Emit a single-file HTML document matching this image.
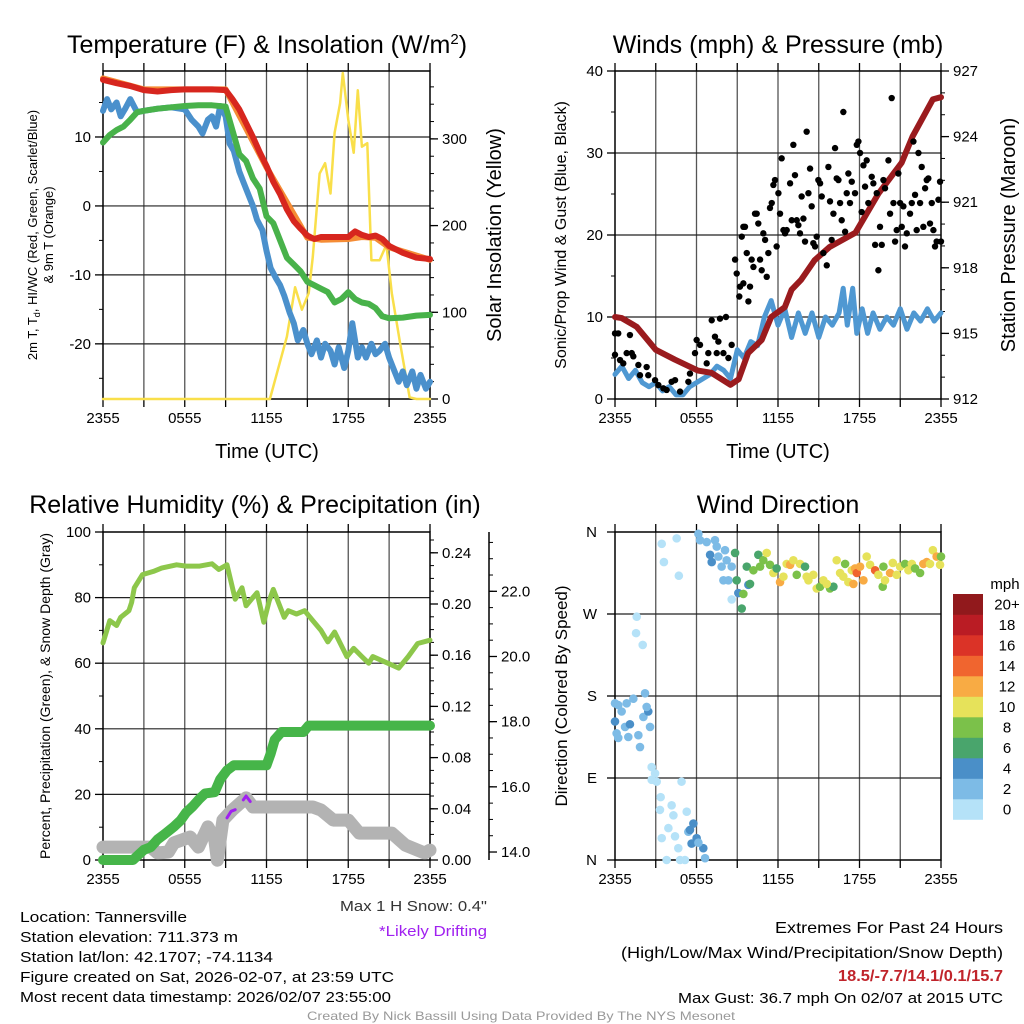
<!DOCTYPE html>
<html><head><meta charset="utf-8"><style>
html,body{margin:0;padding:0;background:#fff;}
svg{display:block;font-family:"Liberation Sans",Arial,sans-serif;}
</style></head><body>
<svg id="c" width="1024" height="1024" viewBox="0 0 1024 1024" xmlns="http://www.w3.org/2000/svg">
<g id="txt" fill="#000">
<text x="267" y="53" font-size="25" text-anchor="middle">Temperature (F) &amp; Insolation (W/m<tspan dy="-9" font-size="15">2</tspan><tspan dy="9">)</tspan></text>
<text x="778" y="53" font-size="25" text-anchor="middle">Winds (mph) &amp; Pressure (mb)</text>
<text x="255" y="513" font-size="25" text-anchor="middle">Relative Humidity (%) &amp; Precipitation (in)</text>
<text x="778" y="513" font-size="25" text-anchor="middle">Wind Direction</text>
<text x="267" y="458" font-size="20" text-anchor="middle">Time (UTC)</text>
<text x="778" y="458" font-size="20" text-anchor="middle">Time (UTC)</text>
<text transform="translate(37,235) rotate(-90)" font-size="13" text-anchor="middle">2m T, T<tspan font-size="9" dy="3">d</tspan><tspan dy="-3">, HI/WC (Red, Green, Scarlet/Blue)</tspan></text>
<text transform="translate(53,235) rotate(-90)" font-size="13" text-anchor="middle">&amp; 9m T (Orange)</text>
<text transform="translate(501,235) rotate(-90)" font-size="20" text-anchor="middle">Solar Insolation (Yellow)</text>
<text transform="translate(566,235) rotate(-90)" font-size="16" text-anchor="middle">Sonic/Prop Wind &amp; Gust (Blue, Black)</text>
<text transform="translate(1015,235) rotate(-90)" font-size="20" text-anchor="middle">Station Pressure (Maroon)</text>
<text transform="translate(50,696) rotate(-90)" font-size="14" text-anchor="middle">Percent, Precipitation (Green), &amp; Snow Depth (Gray)</text>
<text transform="translate(567,696) rotate(-90)" font-size="17" text-anchor="middle">Direction (Colored By Speed)</text>
<text x="1005" y="589" font-size="15" text-anchor="middle">mph</text>
<text x="487" y="911" font-size="15" text-anchor="end" textLength="147" lengthAdjust="spacingAndGlyphs" fill="#333">Max 1 H Snow: 0.4"</text>
<text x="487" y="936" font-size="15" text-anchor="end" textLength="108" lengthAdjust="spacingAndGlyphs" fill="#a020f0">*Likely Drifting</text>
<text x="20" y="922" font-size="15" textLength="167" lengthAdjust="spacingAndGlyphs">Location: Tannersville</text>
<text x="20" y="942" font-size="15" textLength="218" lengthAdjust="spacingAndGlyphs">Station elevation: 711.373 m</text>
<text x="20" y="962" font-size="15" textLength="253" lengthAdjust="spacingAndGlyphs">Station lat/lon: 42.1707; -74.1134</text>
<text x="20" y="982" font-size="15" textLength="374" lengthAdjust="spacingAndGlyphs">Figure created on Sat, 2026-02-07, at 23:59 UTC</text>
<text x="20" y="1002" font-size="15" textLength="371" lengthAdjust="spacingAndGlyphs">Most recent data timestamp: 2026/02/07 23:55:00</text>
<text x="1003" y="933" font-size="16" text-anchor="end" textLength="228" lengthAdjust="spacingAndGlyphs">Extremes For Past 24 Hours</text>
<text x="1003" y="958" font-size="16" text-anchor="end" textLength="382" lengthAdjust="spacingAndGlyphs">(High/Low/Max Wind/Precipitation/Snow Depth)</text>
<text x="1003" y="981" font-size="16" font-weight="bold" text-anchor="end" textLength="165" lengthAdjust="spacingAndGlyphs" fill="#c0242b">18.5/-7.7/14.1/0.1/15.7</text>
<text x="1003" y="1003" font-size="15" text-anchor="end" textLength="325" lengthAdjust="spacingAndGlyphs">Max Gust: 36.7 mph On 02/07 at 2015 UTC</text>
<text x="521" y="1020" font-size="12" text-anchor="middle" textLength="428" lengthAdjust="spacingAndGlyphs" fill="#999">Created By Nick Bassill Using Data Provided By The NYS Mesonet</text>
</g>
</svg>
<script>
// ---------- DATA ----------
var xTickLabels = ["2355","0555","1155","1755","2355"];
var tempHours = [0,1,2,3,4,5,6,7,8,9,9.5,10,10.5,11,11.5,12,12.5,13,13.5,14,14.5,15,15.5,16,17,18,18.5,19,19.5,20,20.5,21,22,23,24];
var tempVals = [18.3,17.8,17.4,16.8,16.6,16.8,16.9,16.9,16.9,16.8,15.5,14,12,10,7.8,5.8,3.5,1.7,-0.5,-2.2,-3.3,-4.3,-4.8,-4.5,-4.5,-4.5,-3.7,-4.2,-4.5,-4.3,-4.8,-5.8,-6.8,-7.5,-7.7];
var t9Hours = [0,3,9,12,15,16,18,19,20,21,24];
var t9Vals = [18.5,16.9,16.9,5.6,-4.6,-4.9,-4.8,-4.5,-4.6,-6.0,-7.8];
var dewHours = [0,0.5,1,1.5,2,2.5,3,4,5,6,7,8,9,9.5,10,10.5,11,11.5,12,12.5,13,13.5,14,14.5,15,15.5,16,16.5,17,17.5,18,18.5,19,19.5,20,20.5,21,22,23,24];
var dewVals = [9.2,10.3,11,11.5,12.5,13.6,13.8,14.1,14.3,14.5,14.6,14.6,14.4,11,7.5,6.5,4,2.5,-1.5,-2.5,-5,-7.5,-8.5,-9.5,-11,-11.5,-12,-12.5,-14,-13.5,-12.5,-13.5,-14,-14.2,-14.8,-16,-16.3,-16.2,-15.9,-15.8];
var wcHours = [0,0.3,0.6,1,1.3,1.6,2,2.5,3,4,5,6,6.5,7,7.3,7.7,8,8.3,8.6,9,9.3,9.6,10,10.3,10.6,11,11.3,11.7,12,12.3,12.7,13,13.3,13.7,14,14.3,14.7,15,15.3,15.7,16,16.3,16.7,17,17.3,17.7,18,18.3,18.7,19,19.3,19.7,20,20.3,20.7,21,21.3,21.7,22,22.3,22.7,23,23.3,23.7,24];
var wcVals = [13.8,15.5,14,15,13,14,15.5,13.6,13.8,14.1,14.3,14,12.5,11.5,10.5,12.5,13,11.5,14.5,13,9,8,5,3.5,2,0,-2,-3.5,-6.5,-9,-10.5,-11.5,-13,-15.5,-17,-19.5,-18,-20,-21.5,-19.5,-22,-20,-21,-23,-20.5,-23.5,-21,-17,-22,-20.5,-22,-20,-21.5,-21,-20,-22,-23.5,-25.5,-24,-26,-24,-26.5,-24.5,-26.5,-25.5];
var solHours = [0,12.25,13.5,14.1,14.6,15.1,15.4,15.9,16.3,16.7,17,17.4,17.6,18,18.4,18.7,19,19.4,19.7,20.3,20.8,21.2,21.8,22.5,23,24];
var solVals = [0,0,72,129,103,122,164,260,272,237,307,341,376,322,284,356,291,295,160,160,178,122,65,2,0,0];

var windHours = [0,0.5,1,1.5,2,2.5,3,3.5,4,4.5,5,5.5,6,6.5,7,7.5,8,8.5,9,9.5,10,10.5,11,11.5,12,12.5,13,13.5,14,14.5,15,15.5,16,16.5,16.8,17.1,17.5,17.8,18.2,18.6,19,19.5,20,20.5,21,21.5,22,22.5,23,23.5,24];
var windVals = [3,4,2.5,3.5,2,1.5,2,1,1.5,0.5,0.5,1.5,2,2.5,3,4,3.5,2.5,6,5,7,6.5,10,12,9,11,7.5,10.5,8,10.5,7.5,10,9,10.5,13.5,9,13.5,8,11,8,10.5,8.5,10,9,11,8.5,10.5,9.5,11,9.5,10.5];
var presHours = [0,0.5,1.6,3,4.4,6.1,7.1,8.5,9.1,9.8,10.8,11.5,12.5,13,13.7,14.7,15.8,17.7,19.4,21.1,21.9,23.4,24];
var presVals = [915.75,915.7,915.3,914.25,913.8,913.3,913.2,912.65,912.9,914.1,914.7,915.75,916.2,917,917.45,918.35,918.95,919.6,921.4,922.8,924,925.7,925.8];
var gustHours = [0,0,0.37,0.24,1.1,0.86,0.61,1.23,1.35,1.72,1.84,2.33,2.45,2.95,3.19,3.56,3.8,4.17,4.42,4.79,5.4,5.52,5.89,6.01,6.26,6.75,6.87,7.12,7.36,7.49,7.61,7.73,8.17,7.98,8.35,8.59,
 8.84,8.96,9.15,9.33,9.45,9.57,9.7,9.2,9.45,9.82,9.94,10.06,10.19,10.31,10.43,10.55,10.68,10.8,10.92,11.05,11.17,11.29,11.41,11.54,11.66,11.78,11.9,12.03,12.15,12.27,12.4,12.52,12.64,12.89,13.01,13.13,13.25,13.38,13.5,13.62,13.74,13.87,13.99,14.11,14.24,14.36,14.48,14.6,14.73,14.85,14.97,15.1,15.22,15.34,15.59,15.71,15.83,15.95,16.08,16.2,16.32,16.45,16.57,16.69,16.81,16.94,17.06,17.18,17.3,17.43,17.67,17.8,17.92,18.04,18.16,18.29,18.41,18.53,18.65,18.9,19.02,19.15,19.27,19.39,19.51,19.64,19.76,19.88,20.13,20.25,20.37,20.5,20.62,20.74,20.86,20.99,21.11,21.23,21.35,21.48,21.72,21.85,21.97,22.09,22.21,22.34,22.46,22.58,22.7,22.83,22.95,23.07,23.19,23.32,23.44,23.56,23.68,23.81,23.93,24];
var gustVals = [8.0,5.4,4.75,8.0,7.8,5.6,4.35,5.6,5.2,4.15,2.9,3.9,2.9,2.3,1.7,1.3,1.1,2.1,2.3,0.9,2.1,3.1,5.6,7.2,6.6,4.35,5.6,9.6,7.6,5.6,7.0,9.8,10.0,5.6,5.0,6.6,
 17.0,15.3,12.5,19.8,21.0,21.0,17.8,13.7,14.1,11.9,13.7,17.0,16.1,22.6,22.6,21.4,17.0,15.7,20.2,19.4,14.9,17.8,23.3,23.9,26.1,26.7,18.6,25.1,22.6,29.35,20.6,20.2,20.6,26.3,21.8,31.0,27.3,21.8,21.2,20.2,24.7,22.0,19.2,32.6,25.1,28.1,23.5,19.0,18.6,19.8,26.7,26.3,24.7,17.8,16.3,28.3,24.1,19.4,22.6,30.6,26.9,26.7,23.9,21.8,35.0,20.4,25.1,27.5,23.9,26.5,25.1,31.0,31.4,30.0,22.8,28.5,25.9,29.1,23.9,27.1,26.3,18.8,25.1,15.7,21.0,18.8,26.7,25.7,29.1,22.6,36.7,23.9,19.2,20.6,27.5,23.9,21.0,23.5,18.6,20.2,22.6,23.9,31.4,24.9,20.6,30.0,23.9,28.3,21.0,25.7,26.7,26.9,21.4,23.9,20.6,18.6,19.2,24.3,26.5,19.2];

var rhHours = [0,0.5,1,1.3,1.9,2.1,2.3,2.9,3.7,4.3,5.4,6.1,7.1,8,8.5,9.1,9.7,10.2,10.5,10.9,11.3,11.8,12.2,12.5,13.3,13.6,14.2,14.8,15.4,16,16.5,17,17.9,18.4,19,19.5,19.8,20.9,21.7,22.4,23.1,24];
var rhVals = [66.2,73,71.5,74,76,78.5,83,87,88,89,90,89.6,89.6,90.3,88.6,90,79.5,83,77.5,79.5,81.5,72.5,79,82.5,74,76,75,76,73,70,66.5,69.5,62,64.5,62,60,62,60,58.5,62,66,67];
var precipHours = [0,2.2,2.6,3,3.5,4,4.5,5.2,5.7,6.1,6.6,7.1,7.5,8.2,8.6,9.1,9.6,12,12.3,12.6,13.1,14.7,15.1,24];
var precipVals = [0,0,0.004,0.008,0.01,0.016,0.02,0.026,0.031,0.037,0.042,0.048,0.052,0.053,0.063,0.07,0.074,0.074,0.083,0.094,0.1,0.1,0.105,0.105];
var snowHours = [0,3.5,4,4.8,5.2,6.4,7,7.7,8.2,8.4,8.8,9.5,10.5,11,15.4,16,16.9,18,18.8,21.2,22.2,23.6,24];
var snowVals = [14.15,14.15,13.97,14.0,14.28,14.46,14.15,14.77,14.4,13.75,14.98,15.29,15.66,15.38,15.38,15.29,14.98,14.98,14.58,14.58,14.21,13.97,14.06];
var driftHours1 = [9.1,9.4,9.7];
var driftVals1 = [15.05,15.25,15.3];
var driftHours2 = [10.3,10.5,10.8];
var driftVals2 = [15.6,15.72,15.55];

var dirLabels = ["N","E","S","W","N"];
var speedLabels = ["0","2","4","6","8","10","12","14","16","18","20+"];
var speedColors = ["#b5e2f8","#7dbbe6","#4a8fc8","#49a56c","#7bc14a","#e6e25a","#f8ab44","#f0652f","#db3327","#ba1c24","#91191c"];
var dirHours = [0,0.24,0.49,0.86,1.35,0,0.74,1.1,0.12,0.24,0.98,1.72,1.84,2.09,2.45,2.33,2.58,2.21,1.6,1.55,2.04,2.7,2.95,2.7,3.07,4.9,3.36,3.31,4.17,4.3,5.28,3.93,3.44,4.42,4.66,5.4,5.52,5.77,6.01,5.64,6.5,6.63,3.8,4.79,5.15,6.14,
 3.44,4.54,3.6,4.7,6.14,6.26,6.75,7.36,7.49,8.1,7.0,7.12,7.61,7.85,8.22,8.59,7.98,8.35,8.59,8.84,8.96,9.08,9.45,9.33,9.7,9.82,9.94,10.19,10.55,10.68,10.92,11.17,11.41,11.66,11.9,12.15,12.4,12.64,12.89,13.13,13.62,13.99,14.24,14.6,14.85,15.1,15.34,15.83,16.08,16.32,16.57,16.94,17.18,17.43,17.67,17.8,18.04,18.29,18.53,18.78,19.15,19.39,19.71,19.88,20.25,20.45,20.74,20.99,21.35,21.6,21.85,22.09,22.46,22.7,22.95,23.19,23.4,23.68,23.93,24,13.38,14.11,15.59,16.81,19.76,17.55];
var dirVals = [172,170,163,172,177,152,146,149,139,134,135,137,124,157,163,168,146,183,267,249,236,102,95,88,86,86,69,55,60,49,53,35,24,26,13,31,33,40,24,18,13,2,0,0,0,19,
 347,353,327,312,358,351,349,351,344,340,335,327,333,322,329,322,307,307,286,337,307,293,292,276,322,302,303,318,335,322,329,337,324,315,320,305,311,325,324,329,325,322,307,313,298,300,307,298,300,329,315,325,305,318,320,315,322,307,333,324,318,313,300,307,315,326,313,322,325,318,325,320,315,325,327,325,340,333,324,333,313,311,303,311,322,303];
var dirSpeeds = [2,2,2,2,2,4,2,4,2,2,2,2,2,2,4,2,2,2,0,0,0,0,0,0,0,0,0,0,0,0,0,0,0,0,0,2,4,4,4,4,4,2,0,0,0,2,
 0,0,0,0,2,2,2,2,2,2,4,4,2,2,2,2,2,2,0,6,6,4,8,6,6,4,6,8,6,8,8,10,8,10,6,12,10,10,12,10,10,6,10,10,10,8,10,8,6,10,10,8,10,10,12,14,12,12,10,10,14,10,8,10,12,10,10,10,8,10,10,8,8,12,12,10,10,12,10,8,8,10,10,10,8,12];

// ---------- DRAWING ----------
var svg = document.getElementById('c');
var NS = 'http://www.w3.org/2000/svg';
function el(tag, attrs, parent) {
  var e = document.createElementNS(NS, tag);
  for (var k in attrs) e.setAttribute(k, attrs[k]);
  (parent || svg).appendChild(e);
  return e;
}
function lin(d0, d1, r0, r1) { return function (v) { return r0 + (v - d0) * (r1 - r0) / (d1 - d0); }; }
function pathD(xs, ys, sx, sy) {
  var d = '';
  for (var i = 0; i < xs.length; i++) d += (i ? 'L' : 'M') + sx(xs[i]).toFixed(1) + ',' + sy(ys[i]).toFixed(1);
  return d;
}
function line(g, xs, ys, sx, sy, color, w, name) {
  var p = el('path', {d: pathD(xs, ys, sx, sy), fill: 'none', stroke: color, 'stroke-width': w, 'stroke-linejoin': 'round', 'stroke-linecap': 'round'}, g);
  
  
  return p;
}
function txt(g, x, y, s, size, anchor, name) {
  var t = el('text', {x: x, y: y, 'font-size': size, 'text-anchor': anchor || 'middle'}, g);
  t.textContent = s;
  
  
  return t;
}

function frame(name, x0, x1, y0, y1, sx, hGrid, sy) {
  var g = el('g', {});
  
  
  for (var h = 3; h < 24; h += 3) {
    var vl = el('line', {x1: sx(h), x2: sx(h), y1: y0, y2: y1, stroke: '#555', 'stroke-width': 1.3}, g);
    
    
  }
  for (var i = 0; i < hGrid.length; i++) {
    var hl = el('line', {x1: x0, x2: x1, y1: sy(hGrid[i]), y2: sy(hGrid[i]), stroke: '#222', 'stroke-width': 1.2}, g);
    
    
  }
  for (var h2 = 0; h2 <= 24; h2 += 3) {
    var tb = el('line', {x1: sx(h2), x2: sx(h2), y1: y1, y2: y1 + 8, stroke: '#000', 'stroke-width': 1.3}, g);
    
    
    var tt = el('line', {x1: sx(h2), x2: sx(h2), y1: y0 - 8, y2: y0, stroke: '#000', 'stroke-width': 1.3}, g);
    
    
  }
  for (var j = 0; j < xTickLabels.length; j++) txt(g, sx(j * 6), y1 + 24, xTickLabels[j], 15, 'middle', 'x-tick-label');
  var r = el('rect', {x: x0, y: y0, width: x1 - x0, height: y1 - y0, fill: 'none', stroke: '#000', 'stroke-width': 1.5}, g);
  
  
  return g;
}
function yAxis(g, x, sy, majors, minors, labels, side, name) {
  var dir = side === 'left' ? -1 : 1;
  for (var i = 0; i < minors.length; i++) {
    var m = el('line', {x1: x, x2: x + dir * 4, y1: sy(minors[i]), y2: sy(minors[i]), stroke: '#000', 'stroke-width': 1}, g);
    
    
  }
  for (var k = 0; k < majors.length; k++) {
    var t = el('line', {x1: x, x2: x + dir * 8, y1: sy(majors[k]), y2: sy(majors[k]), stroke: '#000', 'stroke-width': 1.3}, g);
    
    
    txt(g, x + dir * 12, sy(majors[k]) + 5, labels[k], 15, side === 'left' ? 'end' : 'start', name + '-tick-label');
  }
}
function range(a, b, s) { var r = []; for (var v = a; v <= b + 1e-9; v += s) r.push(Math.round(v * 1000) / 1000); return r; }

// Panel 1
var p1x = lin(0, 24, 103, 430);
var p1y = lin(-28, 19.57, 399, 71);
var p1r = lin(0, 378.3, 399, 71);
var g1 = frame('temperature-panel', 103, 430, 71, 399, p1x, [-20, -10, 0, 10], p1y);
yAxis(g1, 103, p1y, [-20, -10, 0, 10], [-25, -15, -5, 5, 15], ["-20", "-10", "0", "10"], 'left', 'temp-y');
yAxis(g1, 430, p1r, [0, 100, 200, 300], range(20, 360, 20), ["0", "100", "200", "300"], 'right', 'insolation-y');
line(g1, solHours, solVals, p1x, p1r, '#f9df4a', 2.5, 'solar-insolation-line');
line(g1, wcHours, wcVals, p1x, p1y, '#4a90cc', 6, 'wind-chill-line');
line(g1, dewHours, dewVals, p1x, p1y, '#48b24a', 6, 'dewpoint-line');
line(g1, t9Hours, t9Vals, p1x, p1y, '#f58c35', 6, 'temp-9m-line');
line(g1, tempHours, tempVals, p1x, p1y, '#d7261e', 6, 'temperature-line');

// Panel 2
var p2x = lin(0, 24, 615, 941);
var p2y = lin(0, 40, 399, 71);
var p2r = lin(912, 927, 399, 71);
var g2 = frame('winds-panel', 615, 941, 71, 399, p2x, [10, 20, 30], p2y);
yAxis(g2, 615, p2y, [0, 10, 20, 30, 40], [5, 15, 25, 35], ["0", "10", "20", "30", "40"], 'left', 'wind-y');
yAxis(g2, 941, p2r, [912, 915, 918, 921, 924, 927], range(912, 927, 1), ["912", "915", "918", "921", "924", "927"], 'right', 'pressure-y');
line(g2, windHours, windVals, p2x, p2y, '#4f98d2', 5, 'sonic-wind-line');
line(g2, presHours, presVals, p2x, p2r, '#9a1b1e', 6, 'pressure-line');
for (var i = 0; i < gustHours.length; i++) {
  var c = el('circle', {cx: p2x(gustHours[i]), cy: p2y(gustVals[i]), r: 3.2, fill: '#000'}, g2);
  
  
}

// Panel 3
var p3x = lin(0, 24, 103, 430);
var p3y = lin(0, 100, 860, 532);
var p3r = lin(0, 0.25625, 860, 532);
var p3s = lin(13.755, 23.82, 860, 532);
var g3 = frame('humidity-panel', 103, 430, 532, 860, p3x, [20, 40, 60, 80], p3y);
yAxis(g3, 103, p3y, [0, 20, 40, 60, 80, 100], [10, 30, 50, 70, 90], ["0", "20", "40", "60", "80", "100"], 'left', 'percent-y');
yAxis(g3, 430, p3r, [0, 0.04, 0.08, 0.12, 0.16, 0.2, 0.24], range(0.01, 0.25, 0.01), ["0.00", "0.04", "0.08", "0.12", "0.16", "0.20", "0.24"], 'right', 'precip-y');
var sAx = el('line', {x1: 489, x2: 489, y1: 532, y2: 860, stroke: '#000', 'stroke-width': 1.5}, g3);


yAxis(g3, 489, p3s, [14, 16, 18, 20, 22], range(14.5, 23.5, 0.5), ["14.0", "16.0", "18.0", "20.0", "22.0"], 'right', 'snow-y');
line(g3, snowHours, snowVals, p3x, p3s, '#b3b3b3', 13, 'snow-depth-line');
line(g3, driftHours1, driftVals1, p3x, p3s, '#a020f0', 3, 'drifting-segment');
line(g3, driftHours2, driftVals2, p3x, p3s, '#a020f0', 3, 'drifting-segment');
line(g3, precipHours, precipVals, p3x, p3r, '#46b549', 10, 'precipitation-line');
line(g3, rhHours, rhVals, p3x, p3y, '#8dc74b', 5, 'relative-humidity-line');

// Panel 4
var p4x = lin(0, 24, 615, 941);
var p4y = lin(0, 360, 860, 532);
var g4 = frame('wind-direction-panel', 615, 941, 532, 860, p4x, [90, 180, 270], p4y);
for (var d = 0; d < dirLabels.length; d++) {
  var tk = el('line', {x1: 615, x2: 607, y1: p4y(d * 90), y2: p4y(d * 90), stroke: '#000', 'stroke-width': 1.3}, g4);
  
  
  txt(g4, 597, p4y(d * 90) + 5, dirLabels[d], 15, 'end', 'direction-tick-label');
}
for (var q = 0; q < dirHours.length; q++) {
  var ci = el('circle', {cx: p4x(dirHours[q]), cy: p4y(dirVals[q]), r: 4.3, fill: speedColors[Math.min(10, Math.round(dirSpeeds[q] / 2))]}, g4);
  
  
}
// colorbar
var cb = el('g', {}, svg);


for (var b = 0; b < speedColors.length; b++) {
  var yy = 594 + (10 - b) * 20.5;
  var bx = el('rect', {x: 953, y: yy, width: 30, height: 20.8, fill: speedColors[b]}, cb);
  
  
  txt(cb, 1007, yy + 15.5, speedLabels[b], 15, 'middle', 'colorbar-label');
}
</script>
</body></html>
